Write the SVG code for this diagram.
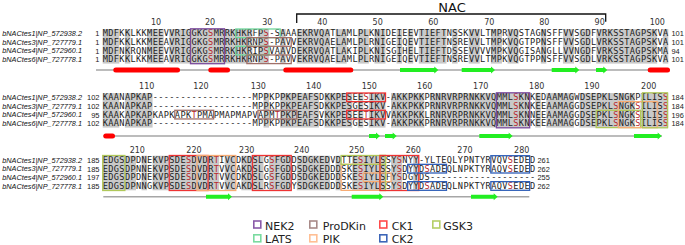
<svg xmlns="http://www.w3.org/2000/svg" width="685" height="245" viewBox="0 0 685 245">
<style>
.lbl{font-family:"Liberation Sans",Arial,sans-serif;font-style:italic;font-size:7.3px;fill:#111;text-anchor:end}
.sn{font-family:"Liberation Sans",Arial,sans-serif;font-size:7.5px;fill:#222;text-anchor:end}
.en{font-family:"Liberation Sans",Arial,sans-serif;font-size:7.4px;fill:#222}
.seq{font-family:"DejaVu Sans Mono",monospace;font-size:8.6px;fill:#222}
.r{fill:#b8262b}
.tk{font-family:"DejaVu Sans",sans-serif;font-size:8px;fill:#333;text-anchor:middle}
.sh{fill:#c9c9c9}
.bx{fill:none;stroke-width:1.3}
.nek{stroke:#7b4a9c}.lats{stroke:#6fd69a}.pro{stroke:#a0706a}.ck1{stroke:#ee3333}.ck2{stroke:#2f5fb8}.pik{stroke:#f7ac74}.gsk{stroke:#b0c85a}
.ln{stroke:#a6a6a6;stroke-width:1.6}
.hx{fill:#ff0000}
.st{fill:#22ee22}
.leg{font-family:"DejaVu Sans",sans-serif;font-size:11px;fill:#222}
.lg{fill:none;stroke-width:1.6}
</style>

<g id="nac">
<path d="M296.7 23 V14 H605.7 V21.7" fill="none" stroke="#111" stroke-width="1.3"/>
<text x="452" y="12" font-family="DejaVu Sans,sans-serif" font-size="13" fill="#111" text-anchor="middle">NAC</text>
</g>

<!-- ===== Block 1 ===== -->
<g id="block1">
<g id="b1-shade">
<rect class="sh" x="102.70" y="29" width="16.64" height="34.6"/>
<rect class="sh" x="124.88" y="29" width="5.55" height="34.6"/>
<rect class="sh" x="147.06" y="29" width="16.64" height="34.6"/>
<rect class="sh" x="169.24" y="29" width="83.18" height="34.6"/>
<rect class="sh" x="257.96" y="29" width="11.09" height="34.6"/>
<rect class="sh" x="280.14" y="29" width="5.55" height="34.6"/>
<rect class="sh" x="296.78" y="29" width="33.27" height="34.6"/>
<rect class="sh" x="335.59" y="29" width="11.09" height="34.6"/>
<rect class="sh" x="357.77" y="29" width="11.09" height="34.6"/>
<rect class="sh" x="374.41" y="29" width="11.09" height="34.6"/>
<rect class="sh" x="396.59" y="29" width="5.55" height="34.6"/>
<rect class="sh" x="407.68" y="29" width="5.55" height="34.6"/>
<rect class="sh" x="418.77" y="29" width="27.73" height="34.6"/>
<rect class="sh" x="452.04" y="29" width="5.55" height="34.6"/>
<rect class="sh" x="468.67" y="29" width="11.09" height="34.6"/>
<rect class="sh" x="490.85" y="29" width="11.09" height="34.6"/>
<rect class="sh" x="507.49" y="29" width="11.09" height="34.6"/>
<rect class="sh" x="540.76" y="29" width="5.55" height="34.6"/>
<rect class="sh" x="562.94" y="29" width="11.09" height="34.6"/>
<rect class="sh" x="579.57" y="29" width="11.09" height="34.6"/>
<rect class="sh" x="596.21" y="29" width="61.00" height="34.6"/>
<rect class="sh" x="662.75" y="29" width="5.55" height="34.6"/>
</g>
<g id="b1-ruler">
<text class="tk" x="156" y="25">10</text><text class="tk" x="210" y="25">20</text><text class="tk" x="267.3" y="25">30</text><text class="tk" x="322.3" y="25">40</text><text class="tk" x="377.7" y="25">50</text><text class="tk" x="433.3" y="25">60</text><text class="tk" x="489.3" y="25">70</text><text class="tk" x="544.3" y="25">80</text><text class="tk" x="599.7" y="25">90</text><text class="tk" x="657.3" y="25">100</text>
</g>
<g id="b1-labels">
<text class="lbl" x="82" y="36">bNACtes1|NP_572938.2</text>
<text class="lbl" x="82" y="44.7">bNACtes3|NP_727779.1</text>
<text class="lbl" x="82" y="53.3">bNACtes4|NP_572960.1</text>
<text class="lbl" x="82" y="62">bNACtes6|NP_727778.1</text>
<text class="sn" x="99.5" y="36.2">1</text><text class="sn" x="99.5" y="44.9">1</text><text class="sn" x="99.5" y="53.5">1</text><text class="sn" x="99.5" y="62.2">1</text>
<text class="en" x="671.5" y="36.2">101</text><text class="en" x="671.5" y="44.9">101</text><text class="en" x="671.5" y="53.5">94</text><text class="en" x="671.5" y="62.2">101</text>
</g>
<g id="b1-seq">
<text class="seq" x="102.7" y="36.4" textLength="565.6" lengthAdjust="spacing">MDFKKLKKMEEVVRIGGKG<tspan class="r">S</tspan>MRRKHKRFP<tspan class="r">S</tspan>-SAAAEKRVQATLAMLPLKNIDEIEEVTIEFTNSSKVVLTMPRVQSTAGNSFFVVSGDFVRKSSTAGPSKVA</text>
<text class="seq" x="102.7" y="45.05" textLength="565.6" lengthAdjust="spacing">MDFKKLKKMEEAVRIGGKG<tspan class="r">S</tspan>MRRKHKRNP<tspan class="r">S</tspan>-PAVVEKRVQAELAMLPLRNIGEIQEVTIEFTNSREVVLTMPKVQGTPPNSFFVVSGDLVRKSSTAGPSKVA</text>
<text class="seq" x="102.7" y="53.7" textLength="565.6" lengthAdjust="spacing">MDFNKRQNMEEVVRIGGKG<tspan class="r">S</tspan>MRRKHKRIP<tspan class="r">S</tspan>VAAVDEKRVQATLAKIPLKNISGIHELTIEFTDSSEVVVVMPKVQGISANGLLVVNGDFVRKSSTAGPSKMA</text>
<text class="seq" x="102.7" y="62.35" textLength="565.6" lengthAdjust="spacing">MDFKKLKKMEEAVRIGGKG<tspan class="r">S</tspan>MRRKHKRNP<tspan class="r">S</tspan>-PAVVEKRVQAELAMLPLRNIGEIQEVTIEFTNSREVVLTMPKVQGTPPNSFFVVSGDLVRKSSTAGPSKVA</text>
</g>
<g id="b1-boxes">
<rect class="bx nek" x="190.5" y="28.8" width="34" height="34.9"/>
<rect class="bx lats" x="235.78" y="29" width="44.36" height="8.65"/>
<rect class="bx lats" x="235.78" y="46.3" width="33.27" height="8.65"/>
<rect class="bx pro" x="246.87" y="37.65" width="44.36" height="8.65"/>
<rect class="bx pro" x="246.87" y="54.95" width="44.36" height="8.65"/>
</g>
<g id="b1-ss">
<line class="ln" x1="96" y1="70" x2="670" y2="70"/>
<rect class="hx" x="113.3" y="67.5" width="66.7" height="5" rx="2.5"/>
<rect class="hx" x="208.3" y="67.5" width="21.7" height="5" rx="2.5"/>
<rect class="hx" x="283.3" y="67.5" width="70" height="5" rx="2.5"/>
<rect class="hx" x="647.7" y="67.5" width="22.3" height="5" rx="2.5"/>
<polygon class="st" points="400,68 434.3,68 434.3,66.5 438.3,70 434.3,73.5 434.3,72 400,72"/>
<polygon class="st" points="461.7,68 491,68 491,66.5 495,70 491,73.5 491,72 461.7,72"/>
<polygon class="st" points="551.7,68 575.3,68 575.3,66.5 579.3,70 575.3,73.5 575.3,72 551.7,72"/>
<polygon class="st" points="596,68 603.3,68 603.3,66.5 607.3,70 603.3,73.5 603.3,72 596,72"/>
</g>
</g>

<!-- ===== Block 2 ===== -->
<g id="block2">
<g id="b2-shade">
<rect class="sh" x="102.70" y="93" width="16.64" height="34.6"/>
<rect class="sh" x="124.88" y="93" width="27.73" height="34.6"/>
<rect class="sh" x="263.51" y="93" width="5.55" height="34.6"/>
<rect class="sh" x="280.14" y="93" width="38.82" height="34.6"/>
<rect class="sh" x="324.50" y="93" width="27.73" height="34.6"/>
<rect class="sh" x="357.77" y="93" width="5.55" height="34.6"/>
<rect class="sh" x="368.86" y="93" width="16.64" height="34.6"/>
<rect class="sh" x="391.04" y="93" width="33.27" height="34.6"/>
<rect class="sh" x="429.86" y="93" width="99.81" height="34.6"/>
<rect class="sh" x="535.21" y="93" width="5.55" height="34.6"/>
<rect class="sh" x="546.30" y="93" width="27.73" height="34.6"/>
<rect class="sh" x="579.57" y="93" width="55.45" height="34.6"/>
<rect class="sh" x="640.57" y="93" width="27.73" height="34.6"/>
</g>
<g id="b2-ruler">
<text class="tk" x="146.7" y="89.4">110</text><text class="tk" x="201" y="89.4">120</text><text class="tk" x="258.3" y="89.4">130</text><text class="tk" x="313.7" y="89.4">140</text><text class="tk" x="369.3" y="89.4">150</text><text class="tk" x="424.7" y="89.4">160</text><text class="tk" x="480.7" y="89.4">170</text><text class="tk" x="536.7" y="89.4">180</text><text class="tk" x="592" y="89.4">190</text><text class="tk" x="648.7" y="89.4">200</text>
</g>
<g id="b2-labels">
<text class="lbl" x="82" y="100">bNACtes1|NP_572938.2</text>
<text class="lbl" x="82" y="108.7">bNACtes3|NP_727779.1</text>
<text class="lbl" x="82" y="117.3">bNACtes4|NP_572960.1</text>
<text class="lbl" x="82" y="126">bNACtes6|NP_727778.1</text>
<text class="sn" x="99.5" y="100.2">102</text><text class="sn" x="99.5" y="108.9">102</text><text class="sn" x="99.5" y="117.5">95</text><text class="sn" x="99.5" y="126.2">102</text>
<text class="en" x="671.5" y="100.2">184</text><text class="en" x="671.5" y="108.9">184</text><text class="en" x="671.5" y="117.5">196</text><text class="en" x="671.5" y="126.2">184</text>
</g>
<g id="b2-seq">
<text class="seq" x="102.7" y="100.4" textLength="565.6" lengthAdjust="spacing">KAANAPKAP------------------MPPKPPKPEAFSDKKPESEE<tspan class="r">S</tspan>IKV-AKKPKKPRNRVRPRNKKVQMML<tspan class="r">S</tspan>KNKEDAAMAGWDSEPKLSNGKPILIS<tspan class="r">S</tspan></text>
<text class="seq" x="102.7" y="109.05" textLength="565.6" lengthAdjust="spacing">KAANAPKAP------------------MPPKPPKPEAFSDKKPESGESIKV-AKKPKKPRNRVRPRNKKVQMML<tspan class="r">S</tspan>KNKEEAAMAGGDSEPKL<tspan class="r">S</tspan>NGK<tspan class="r">S</tspan>ILIS<tspan class="r">S</tspan></text>
<text class="seq" x="102.7" y="117.7" textLength="565.6" lengthAdjust="spacing">KAAKAPKAPKAPKAPK<tspan class="r">T</tspan>PMAPMAPMAPVAPM<tspan class="r">T</tspan>PKPEAFSVKKPESEE<tspan class="r">T</tspan>IKVVAKKPKKLRNRVRPRNKKVQMML<tspan class="r">S</tspan>KNNEEAAMAGGDSEPKL<tspan class="r">S</tspan>NGK<tspan class="r">S</tspan>ILIS<tspan class="r">S</tspan></text>
<text class="seq" x="102.7" y="126.35" textLength="565.6" lengthAdjust="spacing">KAANAPKAP------------------MPPKPPKPEAFSDKKPESGESIKV-AKKPKKPRNRVRPRNKKVQMML<tspan class="r">S</tspan>KNKEEAAMAGGDSEPKL<tspan class="r">S</tspan>NGK<tspan class="r">S</tspan>ILIS<tspan class="r">S</tspan></text>
</g>
<g id="b2-boxes">
<rect class="bx pro" x="174.79" y="110.3" width="38.82" height="8.65"/>
<rect class="bx pro" x="257.96" y="110.3" width="38.82" height="8.65"/>
<rect class="bx ck1" x="346.68" y="93" width="38.82" height="8.65"/>
<rect class="bx ck1" x="346.68" y="110.3" width="38.82" height="8.65"/>
<rect class="bx nek" x="496.40" y="92.8" width="33.27" height="35"/>
<rect class="bx gsk" x="596.21" y="110.3" width="44.36" height="17.3"/>
<rect class="bx pik" x="618.39" y="101.65" width="38.82" height="25.95"/>
<rect class="bx gsk" x="642.5" y="92.8" width="25" height="35"/>
</g>
<g id="b2-ss">
<line class="ln" x1="103.3" y1="136" x2="662" y2="136"/>
<rect class="hx" x="103.3" y="133.5" width="11.7" height="5" rx="2.5"/>
<polygon class="st" points="369,134 376,134 376,132.5 380,136 376,139.5 376,138 369,138"/>
<polygon class="st" points="385,134 392.7,134 392.7,132.5 396.7,136 392.7,139.5 392.7,138 385,138"/>
<polygon class="st" points="479.3,134 508.7,134 508.7,132.5 512.7,136 508.7,139.5 508.7,138 479.3,138"/>
<polygon class="st" points="634,134 657.7,134 657.7,132.5 661.7,136 657.7,139.5 657.7,138 634,138"/>
</g>
</g>

<!-- ===== Block 3 ===== -->
<g id="block3">
<g id="b3-shade">
<rect class="sh" x="102.70" y="155.7" width="33.27" height="34.6"/>
<rect class="sh" x="141.52" y="155.7" width="5.55" height="34.6"/>
<rect class="sh" x="152.61" y="155.7" width="66.54" height="34.6"/>
<rect class="sh" x="224.69" y="155.7" width="11.09" height="34.6"/>
<rect class="sh" x="241.33" y="155.7" width="22.18" height="34.6"/>
<rect class="sh" x="269.05" y="155.7" width="22.18" height="34.6"/>
<rect class="sh" x="296.78" y="155.7" width="33.27" height="34.6"/>
<rect class="sh" x="335.59" y="155.7" width="5.55" height="34.6"/>
<rect class="sh" x="352.23" y="155.7" width="33.27" height="34.6"/>
<rect class="sh" x="391.04" y="155.7" width="11.09" height="34.6"/>
<rect class="sh" x="413.22" y="155.7" width="5.55" height="34.6"/>
</g>
<g id="b3-ruler">
<text class="tk" x="137.3" y="152.8">210</text><text class="tk" x="194" y="152.8">220</text><text class="tk" x="246.7" y="152.8">230</text><text class="tk" x="301.7" y="152.8">240</text><text class="tk" x="356.7" y="152.8">250</text><text class="tk" x="413.3" y="152.8">260</text><text class="tk" x="465" y="152.8">270</text><text class="tk" x="521.7" y="152.8">280</text>
</g>
<g id="b3-labels">
<text class="lbl" x="82" y="162.7">bNACtes1|NP_572938.2</text>
<text class="lbl" x="82" y="171.4">bNACtes3|NP_727779.1</text>
<text class="lbl" x="82" y="180">bNACtes4|NP_572960.1</text>
<text class="lbl" x="82" y="188.7">bNACtes6|NP_727778.1</text>
<text class="sn" x="99.5" y="162.9">185</text><text class="sn" x="99.5" y="171.6">185</text><text class="sn" x="99.5" y="180.2">197</text><text class="sn" x="99.5" y="188.9">185</text>
<text class="en" x="537.5" y="162.9">261</text><text class="en" x="537.5" y="171.6">262</text><text class="en" x="537.5" y="180.2">255</text><text class="en" x="537.5" y="188.9">262</text>
</g>
<g id="b3-seq">
<text class="seq" x="102.7" y="163.1" textLength="432.5" lengthAdjust="spacing">EDGSDPDNEKVPSDE<tspan class="r">S</tspan>DVDR<tspan class="r">T</tspan>IVCDKDSLG<tspan class="r">S</tspan>FGDDSDGKEDVDTTE<tspan class="r">S</tspan>IYLSSY<tspan class="r">S</tspan>NYY-YLTEQLYPNTYRVQV<tspan class="r">S</tspan>EDED</text>
<text class="seq" x="102.7" y="171.75" textLength="432.5" lengthAdjust="spacing">EDGSDPNNEKVPSDE<tspan class="r">S</tspan>DVDR<tspan class="r">T</tspan>VVCAKDSLG<tspan class="r">S</tspan>FGDDSDGKEDDDSKE<tspan class="r">S</tspan>IYLSSY<tspan class="r">S</tspan>DYYD<tspan class="r">S</tspan>ADEQLNPKTYRAQV<tspan class="r">S</tspan>EDED</text>
<text class="seq" x="102.7" y="180.4" textLength="432.5" lengthAdjust="spacing">EDGSDPDNEKVPSDE<tspan class="r">S</tspan>DVDR<tspan class="r">T</tspan>VVCDKDSLG<tspan class="r">S</tspan>FGDDSDGKEDDDSKE<tspan class="r">S</tspan>IYLSFY<tspan class="r">S</tspan>DGYDS-------------------</text>
<text class="seq" x="102.7" y="189.05" textLength="432.5" lengthAdjust="spacing">EDGSDPNNGKVPSDE<tspan class="r">S</tspan>DVDR<tspan class="r">T</tspan>VVCAKDSLR<tspan class="r">S</tspan>FGDYSDGKEDDDSKE<tspan class="r">S</tspan>IYLSSY<tspan class="r">S</tspan>DYYD<tspan class="r">S</tspan>ADEQLNPKTYRAQV<tspan class="r">S</tspan>EDED</text>
</g>
<g id="b3-boxes">
<rect class="bx gsk" x="102.7" y="155.5" width="22.18" height="35"/>
<rect class="bx ck1" x="169.24" y="155.5" width="38.82" height="35"/>
<rect class="bx pik" x="196.97" y="155.5" width="38.82" height="35"/>
<rect class="bx ck1" x="252.42" y="155.5" width="38.82" height="35"/>
<rect class="bx pik" x="341.14" y="164.35" width="38.82" height="26"/>
<rect class="bx pik" x="363.32" y="173" width="27.73" height="8.65"/>
<rect class="bx gsk" x="341.14" y="155.5" width="44.36" height="8.85"/>
<rect class="bx gsk" x="379.95" y="155.5" width="5.55" height="35"/>
<rect class="bx ck1" x="379.95" y="155.5" width="38.82" height="35"/>
<rect class="bx ck2" x="407.68" y="164.35" width="38.82" height="8.65"/>
<rect class="bx ck2" x="407.68" y="181.65" width="38.82" height="8.65"/>
<rect class="bx ck2" x="490.85" y="155.7" width="38.82" height="17.3"/>
<rect class="bx ck2" x="490.85" y="181.65" width="38.82" height="8.65"/>
</g>
<g id="b3-ss">
<line class="ln" x1="103.3" y1="196.7" x2="529.3" y2="196.7" stroke-width="2"/>
<polygon class="st" points="206,194.7 228,194.7 228,193.2 232,196.7 228,200.2 228,198.7 206,198.7"/>
<polygon class="st" points="351.7,194.7 379.3,194.7 379.3,193.2 383.3,196.7 379.3,200.2 379.3,198.7 351.7,198.7"/>
<polygon class="st" points="471,194.7 493.7,194.7 493.7,193.2 497.7,196.7 493.7,200.2 493.7,198.7 471,198.7"/>
</g>
</g>

<g id="legend">
<rect class="lg" x="253.8" y="221" width="7" height="7" stroke="#8a5aa8"/><text class="leg" x="265" y="229.8">NEK2</text>
<rect class="lg" x="309.8" y="221" width="7" height="7" stroke="#a88a88"/><text class="leg" x="322.7" y="229.8">ProDKin</text>
<rect class="lg" x="379.8" y="221" width="7" height="7" stroke="#ff4a4a"/><text class="leg" x="391.7" y="229.8">CK1</text>
<rect class="lg" x="432.8" y="221" width="7" height="7" stroke="#b5cf66"/><text class="leg" x="443.3" y="229.8">GSK3</text>
<rect class="lg" x="253.8" y="234.8" width="7" height="7" stroke="#7adba0"/><text class="leg" x="265" y="243.3">LATS</text>
<rect class="lg" x="309.8" y="234.8" width="7" height="7" stroke="#ffbf94"/><text class="leg" x="322.7" y="243.3">PIK</text>
<rect class="lg" x="379.8" y="234.8" width="7" height="7" stroke="#3d66b8"/><text class="leg" x="391.7" y="243.3">CK2</text>
</g>
</svg>
